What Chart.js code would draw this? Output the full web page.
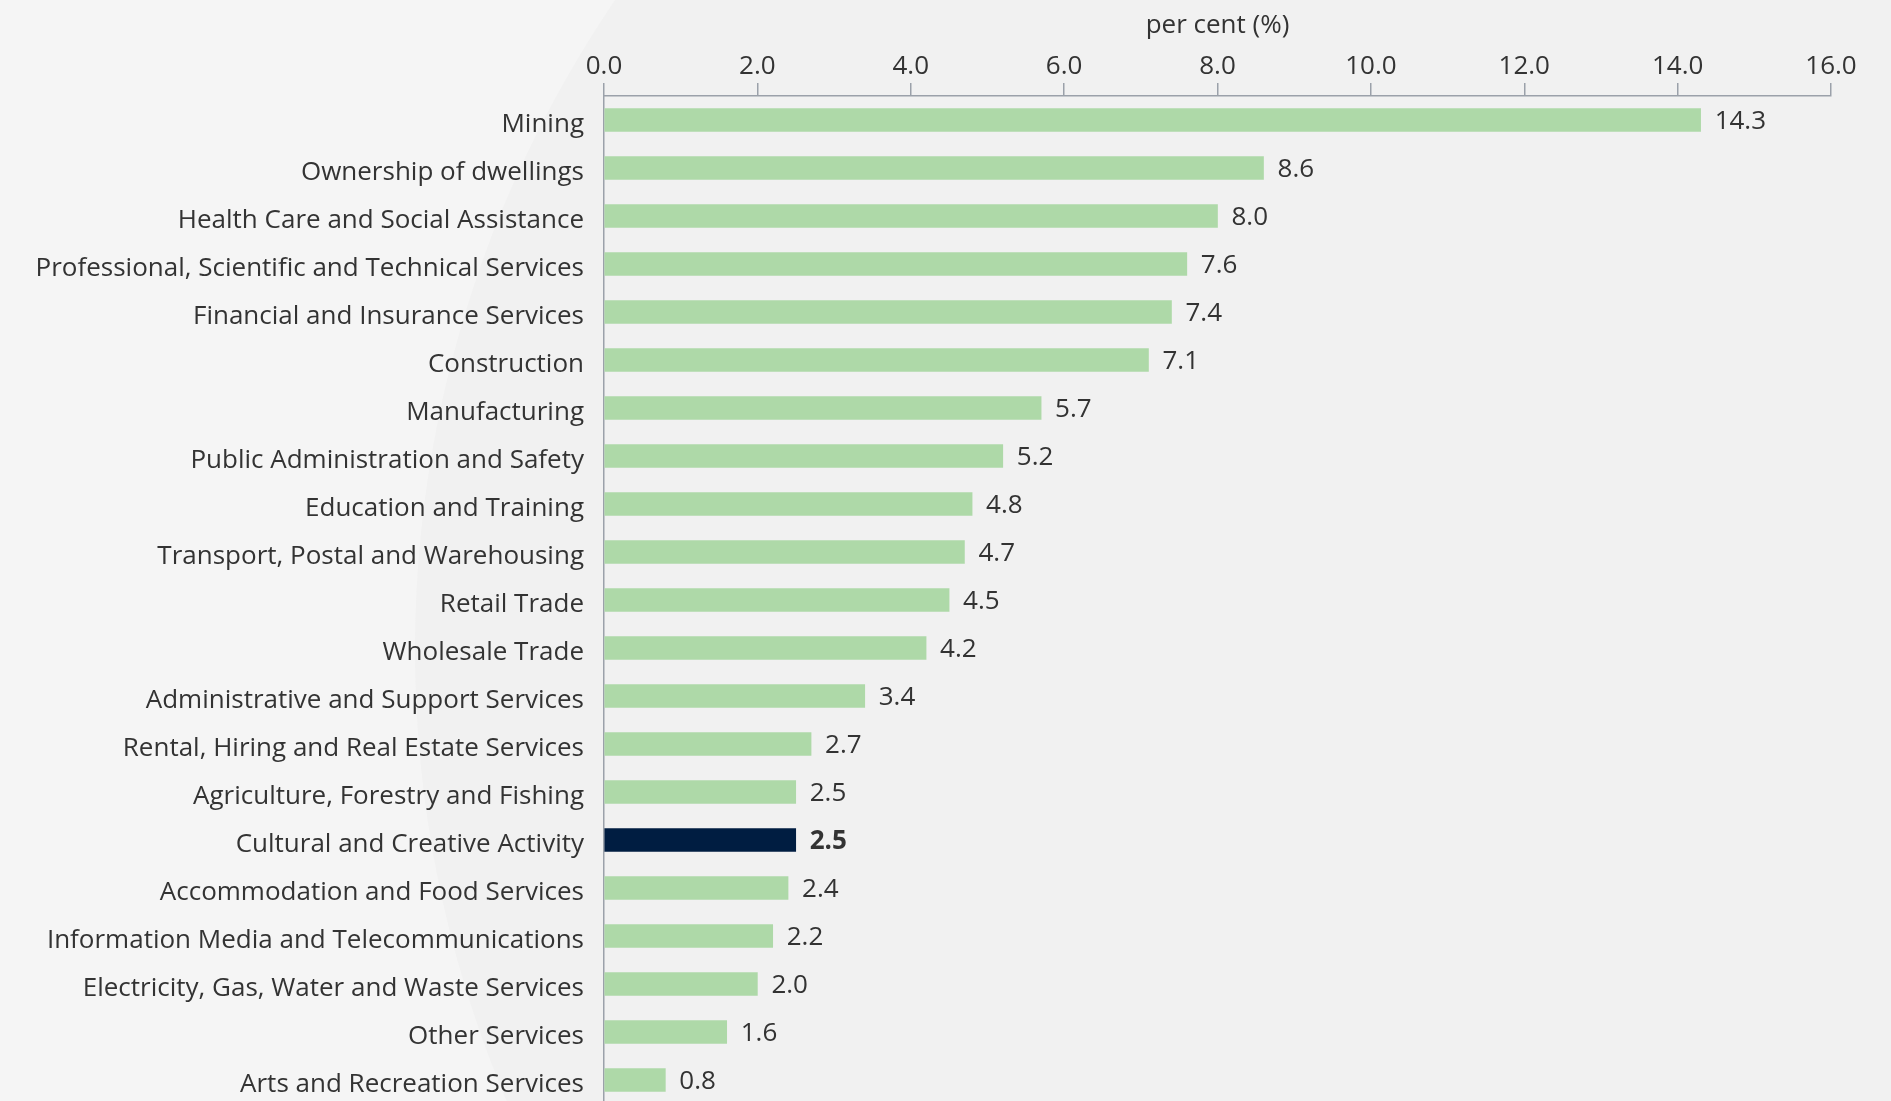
<!DOCTYPE html>
<html>
<head>
<meta charset="utf-8">
<script src="https://cdn.jsdelivr.net/npm/chart.js@4.4.0/dist/chart.umd.min.js"></script>
<style>
    html, body { margin: 0; padding: 0; overflow: hidden; background: #f5f5f5; }
    #industry-chart { position: absolute; left: 0; top: 0; }
</style>
</head>
<body>
<canvas id="industry-chart" width="1891" height="1108"></canvas>
<script>
let industries = [
    'Mining',
    'Ownership of dwellings',
    'Health Care and Social Assistance',
    'Professional, Scientific and Technical Services',
    'Financial and Insurance Services',
    'Construction',
    'Manufacturing',
    'Public Administration and Safety',
    'Education and Training',
    'Transport, Postal and Warehousing',
    'Retail Trade',
    'Wholesale Trade',
    'Administrative and Support Services',
    'Rental, Hiring and Real Estate Services',
    'Agriculture, Forestry and Fishing',
    'Cultural and Creative Activity',
    'Accommodation and Food Services',
    'Information Media and Telecommunications',
    'Electricity, Gas, Water and Waste Services',
    'Other Services',
    'Arts and Recreation Services'
];
let shares = [14.3, 8.6, 8.0, 7.6, 7.4, 7.1, 5.7, 5.2, 4.8, 4.7, 4.5, 4.2, 3.4, 2.7, 2.5, 2.5, 2.4, 2.2, 2.0, 1.6, 0.8];
let highlight = 'Cultural and Creative Activity';
let axisMin = 0;
let axisMax = 16;
let axisStep = 2;
let axisTitle = 'per cent (%)';

let fontFamily = '"Open Sans", "Noto Sans", sans-serif';
let fontSize = 26;
let textColor = '#333333';
let axisColor = '#9ba1aa';

// soft curved panel behind the plot
let backdrop = {
    id: 'backdrop',
    beforeDraw: function (chart) {
        let ctx = chart.ctx;
        ctx.save();
        ctx.fillStyle = '#f5f5f5';
        ctx.fillRect(0, 0, chart.width, chart.height);
        ctx.beginPath();
        ctx.arc(1571, 650, 1156, 0, Math.PI * 2);
        ctx.fillStyle = '#f1f1f1';
        ctx.fill();
        ctx.restore();
    }
};

// value printed after the end of each bar
let valueLabels = {
    id: 'valueLabels',
    afterDatasetsDraw: function (chart) {
        let ctx = chart.ctx;
        let meta = chart.getDatasetMeta(0);
        ctx.save();
        ctx.fillStyle = textColor;
        ctx.textBaseline = 'middle';
        ctx.textAlign = 'left';
        meta.data.forEach(function (bar, i) {
            let bold = industries[i] === highlight;
            ctx.font = (bold ? 'bold ' : '') + fontSize + 'px ' + fontFamily;
            ctx.fillText(shares[i].toFixed(1), bar.x + 14, bar.y + 2);
        });
        ctx.restore();
    }
};

new Chart(document.getElementById('industry-chart'), {
    type: 'bar',
    data: {
        labels: industries,
        datasets: [{
            data: shares,
            backgroundColor: industries.map(function (name) {
                return name === highlight ? '#001d41' : '#aed9a8';
            }),
            barThickness: 23,
            borderWidth: 0
        }]
    },
    options: {
        indexAxis: 'y',
        responsive: false,
        animation: false,
        layout: { padding: { top: 0, right: 60, bottom: 4, left: 0 } },
        plugins: {
            legend: { display: false },
            tooltip: { enabled: false }
        },
        scales: {
            x: {
                position: 'top',
                min: axisMin,
                max: axisMax,
                afterFit: function (scale) { scale.height = 96; },
                ticks: {
                    stepSize: axisStep,
                    padding: 1,
                    color: textColor,
                    font: { family: fontFamily, size: fontSize },
                    callback: function (v) { return Number(v).toFixed(1); }
                },
                grid: {
                    drawOnChartArea: false,
                    drawTicks: true,
                    tickLength: 13,
                    color: axisColor,
                    lineWidth: 1.5
                },
                border: { display: true, color: axisColor, width: 1.5 },
                title: {
                    display: true,
                    text: axisTitle,
                    color: textColor,
                    font: { family: fontFamily, size: fontSize },
                    padding: { top: 10, bottom: 0 }
                }
            },
            y: {
                afterFit: function (scale) {
                    scale.width = 604;
                    // labels sit in the middle of their bands, no edge room needed
                    scale.paddingTop = 0;
                    scale.paddingBottom = 0;
                },
                ticks: {
                    padding: 20,
                    labelOffset: 5,
                    color: textColor,
                    font: { family: fontFamily, size: fontSize },
                    autoSkip: false
                },
                grid: { display: false, drawTicks: false },
                border: { display: true, color: axisColor, width: 1.5 }
            }
        }
    },
    plugins: [backdrop, valueLabels]
});
</script>
</body>
</html>
